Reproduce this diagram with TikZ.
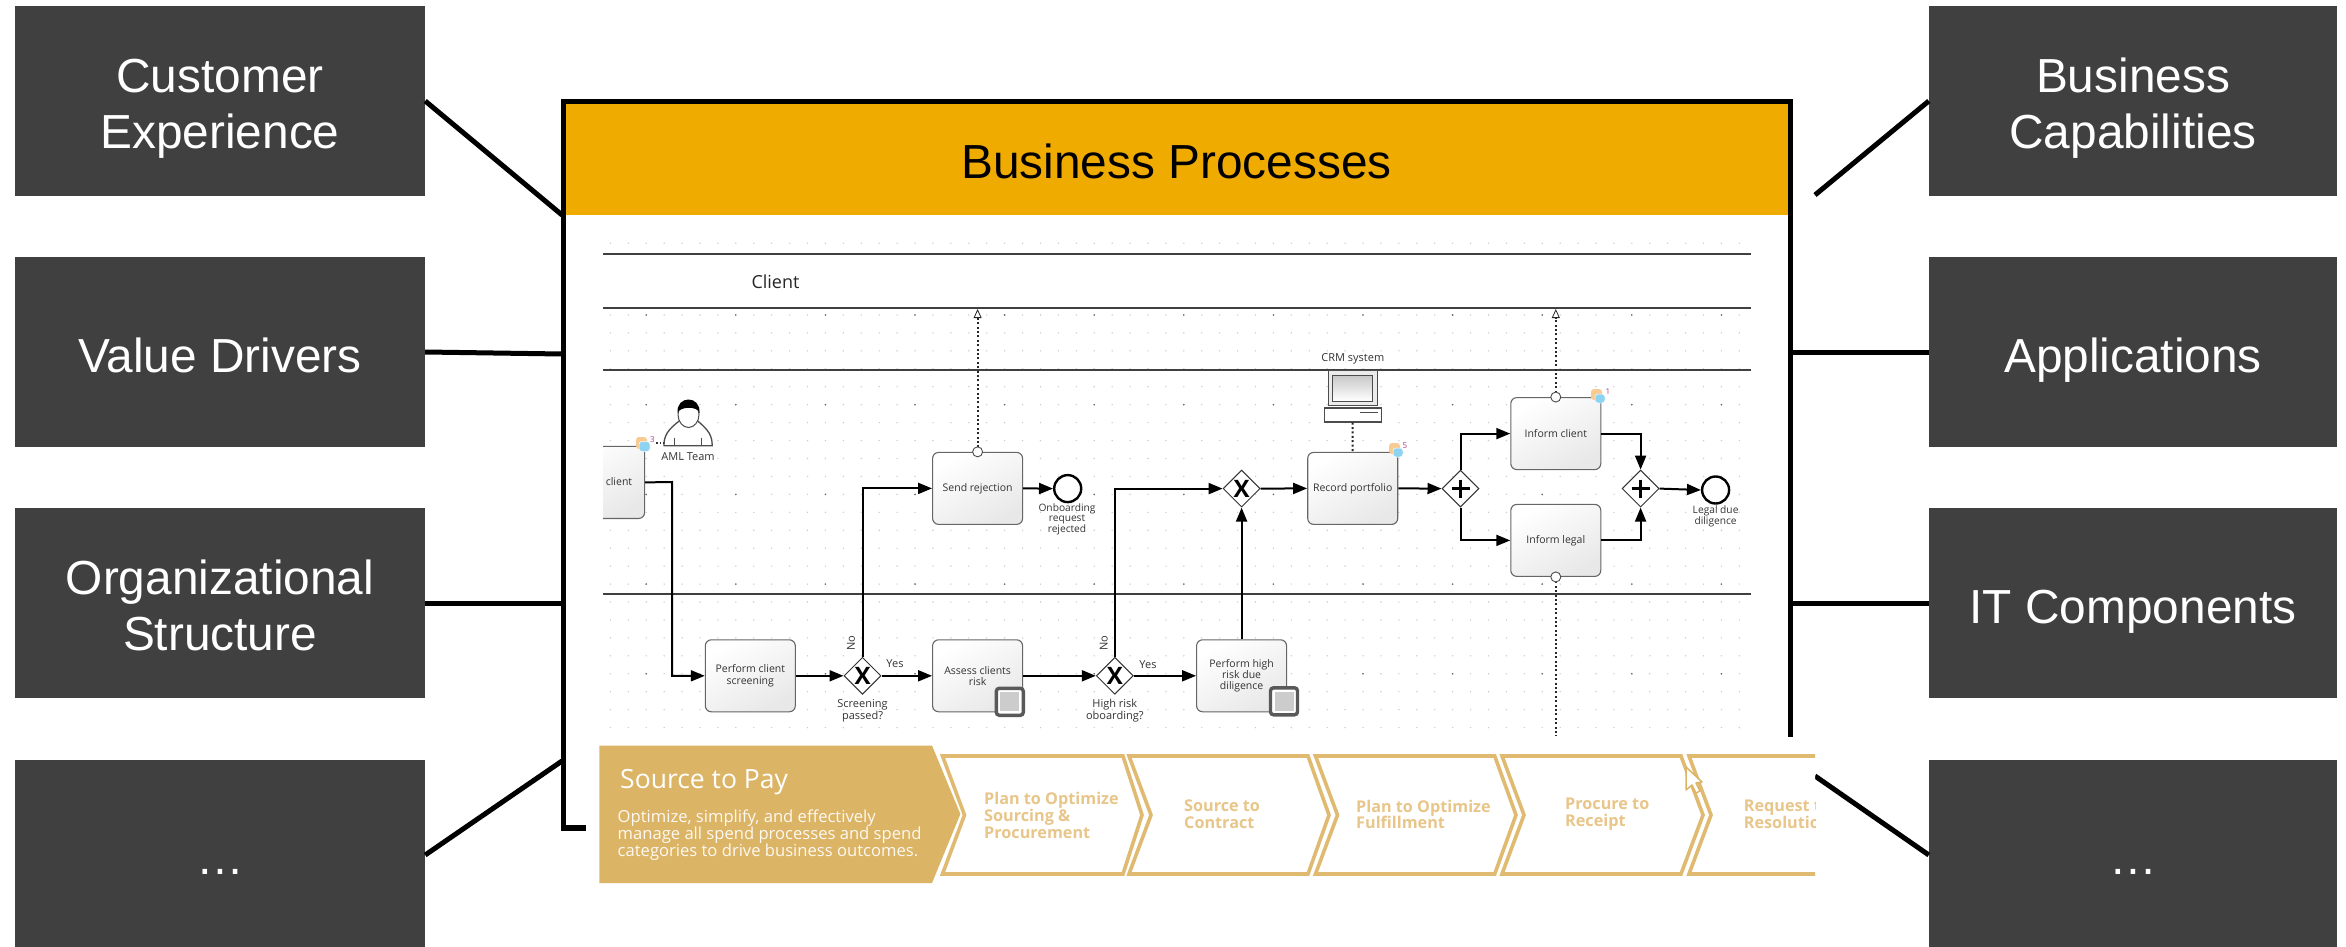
\documentclass[tikz,border=0pt]{standalone}
\usepackage{fontspec}
\setmainfont{Liberation Sans}
\newfontfamily\opensans{Open Sans}
\usetikzlibrary{arrows.meta,shapes.geometric}
\definecolor{boxgrey}{HTML}{404040}
\definecolor{bandorange}{HTML}{F0AB00}
\definecolor{goldfill}{HTML}{DCB465}
\definecolor{goldline}{HTML}{E0BA70}
\definecolor{goldtext}{HTML}{E8C68A}
\definecolor{bpmntext}{HTML}{333333}
\definecolor{badgeorange}{HTML}{F9CB94}
\definecolor{badgeblue}{HTML}{8ED4F2}
\newcommand{\lsone}{\rule[-11pt]{0pt}{63pt}}
\newcommand{\lsa}{\rule[-11pt]{0pt}{61pt}}
\newcommand{\lsb}{\rule[-11pt]{0pt}{11pt}}
\newcommand{\lsd}{\rule[-5pt]{0pt}{48pt}}
\tikzset{
  outerbox/.style={fill=boxgrey,text=white,minimum width=410,minimum height=190,inner sep=0,align=center,
    font=\fontsize{47.8}{55.5}\selectfont},
  spoke/.style={line width=5,black},
  frameline/.style={line width=5.3,black,line cap=butt},
  lane/.style={line width=1.3,black!75},
  task/.style={draw=black!60,line width=1.1,rounded corners=6,top color=white,bottom color=black!9,shading angle=30,
    minimum width=90,minimum height=72,inner sep=0,align=center,text=bpmntext,
    font=\opensans\fontsize{10.5}{11.2}\selectfont},
  gate/.style={diamond,aspect=1,draw=black!80,line width=1,fill=white,minimum width=37,minimum height=37,inner sep=0,
    font=\opensans\bfseries\fontsize{24}{24}\selectfont},
  gatemark/.style={line width=2.4,black},
  endev/.style={circle,draw=black,line width=2.4,fill=white,minimum size=27,inner sep=0},
  portc/.style={circle,draw=black!70,line width=.9,fill=white,minimum size=10,inner sep=0},
  flow/.style={line width=2,black,-{Triangle[length=14pt,width=11pt]}},
  assoc/.style={line width=2,black!85,dash pattern=on 2pt off 2.4pt},
  assocarrow/.style={assoc,-{Triangle[open,fill=white,length=9pt,width=8pt,line width=.8pt]}},
  lab/.style={inner sep=0,align=center,text=bpmntext,font=\opensans\fontsize{11}{10.6}\selectfont},
  marker/.style={draw=black!65,line width=3.4,rounded corners=3,fill=white,minimum size=27,inner sep=0},
  markerin/.style={fill=black!20,minimum size=19,inner sep=0},
  chevtext/.style={anchor=west,inner sep=0,align=left,text=goldtext,font=\opensans\bfseries\fontsize{16.2}{16.8}\selectfont},
  chev/.style={draw=goldline,line width=3.6,fill=white,line join=miter},
  bubbleA/.style={fill=badgeorange,rounded corners=3},
  bubbleB/.style={fill=badgeblue,draw=white,line width=.5,rounded corners=3},
  numlab/.style={inner sep=0,text=magenta!70!black,font=\opensans\fontsize{8}{8}\selectfont}
}
\begin{document}
\begin{tikzpicture}[x=1pt,y=-1pt]
\useasboundingbox (0,0) rectangle (2346,947);
% dot grid
\foreach \i in {0,...,63}{
  \foreach \j in {0,4,5,...,27}{
    \pgfmathsetmacro{\dx}{610.4+17.92*\i}
    \pgfmathsetmacro{\dy}{243.2+17.94*\j}
    \fill[black!20] (\dx,\dy) circle[radius=.8];
  }
}
\foreach \i in {0,...,12}{
  \foreach \j in {0,...,4}{
    \pgfmathsetmacro{\dx}{646.2+89.6*\i}
    \pgfmathsetmacro{\dy}{315+89.7*\j}
    \fill[black!60] (\dx,\dy) circle[radius=.9];
  }
}
% header band and frame
\node[fill=bandorange,minimum width=1223,minimum height=111,inner sep=0,font=\fontsize{47.8}{55}\selectfont] (band) at (1176.5,159.5) {\lsd Business Processes};
\coordinate (fLtop) at (563.3,101.7);
\coordinate (fRtop) at (1790.7,101.7);
\coordinate (fLbot) at (563.3,828);
\coordinate (fstub) at (586,828);
\coordinate (fRbot) at (1790.7,739);
\draw[frameline,line join=miter] (fstub) -- (fLbot) -- (fLtop) -- (fRtop) -- (fRbot);
% outer boxes
\node[outerbox] (cx) at (220,101) {\lsa Customer\\\lsb Experience};
\node[outerbox] (vd) at (220,352) {\lsone Value Drivers};
\node[outerbox] (os) at (220,603) {\lsa Organizational\\\lsb Structure};
\node[outerbox] (l4) at (220,855) {\lsd …};
\node[outerbox,minimum width=408] (bc) at (2133,101) {\lsa Business\\\lsb Capabilities};
\node[outerbox,minimum width=408] (ap) at (2133,352) {\lsone Applications};
\node[outerbox,minimum width=408] (it) at (2133,603) {\lsone IT Components};
\node[outerbox,minimum width=408] (r4) at (2133,855) {\lsd …};
% spokes
\coordinate (sp1) at (562,215);
\coordinate (sp2) at (562,354);
\coordinate (sp3) at (562,603);
\coordinate (sp4) at (562,761);
\coordinate (sp5) at (1815,195);
\coordinate (sp6) at (1791,352);
\coordinate (sp7) at (1791,603);
\coordinate (sp8) at (1815,776);
\draw[spoke] (cx.east) -- (sp1);
\draw[spoke] (vd.east) -- (sp2);
\draw[spoke] (os.east) -- (sp3);
\draw[spoke] (l4.east) -- (sp4);
\draw[spoke] (bc.west) -- (sp5);
\draw[spoke] (ap.west) -- (sp6);
\draw[spoke] (it.west) -- (sp7);
\draw[spoke] (r4.west) -- (sp8);
% lanes
\foreach \y in {254,308,370,594}{
  \draw[lane] (603,\y) -- (1751,\y);
}
\node[inner sep=0,text=black!85,font=\opensans\fontsize{18}{18}\selectfont] (clientlane) at (775.5,281.4) {Client};
% tasks
\begin{scope}
\clip (603,430) rectangle (700,540);
\node[task,minimum height=72.2] (client) at (599.6,482.4) {};
\end{scope}
\node[lab,font=\opensans\fontsize{10.5}{11}\selectfont] (clienttxt) at (619,482) {client};
\node[task] (screen) at (750.3,675.8) {Perform client\\screening};
\node[task] (assess) at (977.6,675.8) {Assess clients\\risk};
\node[task] (send) at (977.6,488.4) {Send rejection};
\node[task] (hrd) at (1241.6,675.8) {Perform high\\risk due\\diligence};
\node[task] (rec) at (1352.7,488.4) {Record portfolio};
\node[task] (iclient) at (1555.8,433.6) {Inform client};
\node[task] (ilegal) at (1555.8,540.4) {Inform legal};
\node[marker] (m1) at (1009.8,701.8) {};
\node[markerin] (mi1) at (m1.center) {};
\node[marker] (m2) at (1284,701.3) {};
\node[markerin] (mi2) at (m2.center) {};
% gateways
\node[gate] (g1) at (862.5,675.8) {X};
\node[gate] (g2) at (1114.8,675.8) {X};
\node[gate] (g3) at (1241.6,488.6) {X};
\node[gate] (g4) at (1460.5,488.6) {};
\node[gate] (g5) at (1640.6,488.6) {};
\draw[gatemark] (g4.center) ++(-9,0) -- ++(18,0) (g4.center) ++(0,-9) -- ++(0,18);
\draw[gatemark] (g5.center) ++(-9,0) -- ++(18,0) (g5.center) ++(0,-9) -- ++(0,18);
% events
\node[endev] (e1) at (1067.7,488.6) {};
\node[endev] (e2) at (1715.6,490) {};
% labels
\node[lab] (aml) at (688,457) {AML Team};
\node[lab,font=\opensans\fontsize{10.2}{10}\selectfont] (onb) at (1067,519.3) {Onboarding\\request\\rejected};
\node[lab,font=\opensans\fontsize{10.2}{10}\selectfont] (ldd) at (1715.6,516) {Legal due\\diligence};
\node[lab] (sp) at (862.5,711) {Screening\\passed?};
\node[lab] (hr) at (1114.8,711) {High risk\\oboarding?};
\node[lab] (y1) at (895,664) {Yes};
\node[lab] (y2) at (1148,665) {Yes};
\node[lab,rotate=90] (n1) at (851,643) {No};
\node[lab,rotate=90] (n2) at (1103.7,643) {No};
\node[lab] (crmt) at (1352.8,359) {CRM system};
% sequence flows
\coordinate (bend) at (672,482);
\draw[flow] (client.east) -- (bend) |- (screen.west);
\draw[flow] (screen.east) -- (g1.west);
\draw[flow] (g1.east) -- (assess.west);
\draw[flow] (assess.east) -- (g2.west);
\draw[flow] (g2.east) -- (hrd.west);
\draw[flow] (g1.north) |- (send.west);
\draw[flow] (send.east) -- (e1.west);
\draw[flow] (g2.north) |- (g3.west);
\draw[flow] (hrd.north) -- (g3.south);
\draw[flow] (g3.east) -- (rec.west);
\draw[flow] (rec.east) -- (g4.west);
\draw[flow] (g4.north) |- (iclient.west);
\draw[flow] (g4.south) |- (ilegal.west);
\draw[flow] (iclient.east) -| (g5.north);
\draw[flow] (ilegal.east) -| (g5.south);
\draw[flow] (g5.east) -- (e2.west);
% associations
\coordinate (up1) at (977.6,309);
\coordinate (up2) at (1555.8,309);
\coordinate (dn1) at (1555.8,736);
\draw[assocarrow] (send.north) -- (up1);
\draw[assocarrow] (iclient.north) -- (up2);
\draw[assoc] (ilegal.south) -- (dn1);
\node[portc] (p1) at (send.north) {};
\node[portc] (p2) at (iclient.north) {};
\node[portc] (p3) at (ilegal.south) {};
% CRM computer
\node[draw=black!70,line width=1.2,fill=black!8,minimum width=49,minimum height=35,inner sep=0] (mon) at (1352.6,388) {};
\node[draw=black!70,line width=1,top color=black!22,bottom color=white,minimum width=40,minimum height=26,inner sep=0] (scr) at (mon.center) {};
\node[draw=black!70,line width=1.2,fill=white,minimum width=57,minimum height=14,inner sep=0] (base) at (1352.6,415) {};
\draw[black!70,line width=1] (1360,412) -- (1378,412);
\draw[assoc] (base.south) -- (rec.north);
% person
\draw[black!70,line width=1.3,fill=white] (664,445.7) .. controls (664,436) and (667,430) .. (680.6,420) -- (696.4,420) .. controls (709,430) and (712.2,436) .. (712.2,445.7) -- cycle;
\draw[black!70,line width=1] (674.7,437.5) -- (674.7,445.7) (701.6,437.5) -- (701.6,445.7);
\draw[black!70,line width=1,fill=white] (688.5,414.5) ellipse[x radius=10.5,y radius=13];
\fill[black] (677.5,413) .. controls (676,395) and (701,395) .. (699.5,413) .. controls (698,406) and (680,406) .. (677.5,413) -- cycle;
% comment badges
\fill[bubbleA] (636,437) rectangle (647,449);
\filldraw[bubbleB] (639,441.5) rectangle (650,451.5);
\node[numlab] (c3) at (652.5,440) {3};
\draw[black!80,line width=1.2,dash pattern=on 1.5pt off 2pt] (656,443) -- (664,443);
\fill[bubbleA] (1389,443) rectangle (1400,454);
\filldraw[bubbleB] (1393,448) rectangle (1403,457);
\node[numlab] (c5) at (1405,446) {5};
\fill[bubbleA] (1591,389) rectangle (1602,400);
\filldraw[bubbleB] (1595,394) rectangle (1605,403);
\node[numlab] (c1) at (1608,392) {1};
% value chain
\fill[white] (597,737) rectangle (1815,900);
\fill[goldfill] (599.3,745.5) -- (932,745.5) -- (960.4,814) -- (932,883) -- (599.3,883) -- cycle;
\begin{scope}
\clip (590,740) rectangle (1815,890);
\foreach \L/\S/\T in {942.5/1123/1142,1129/1308/1329,1315.5/1494.7/1516,1502/1681/1703,1689/1868/1890}{
  \draw[chev] (\L,756) -- (\S,756) -- (\T,815) -- (\S,874) -- (\L,874) -- ({\L+22},815) -- cycle;
}
\node[chevtext] (t5) at (1743.7,814.5) {Request to\\Resolution};
\end{scope}
\node[inner sep=0,anchor=west,text=white,font=\opensans\fontsize{26.5}{26}\selectfont] (stp) at (620,782) {Source to Pay};
\node[inner sep=0,anchor=west,align=left,text=white!92!goldfill,font=\opensans\fontsize{16.6}{16.8}\selectfont] (stpb) at (617.5,835) {Optimize, simplify, and effectively\\manage all spend processes and spend\\categories to drive business outcomes.};
\node[chevtext] (t1) at (984,815.5) {Plan to Optimize\\Sourcing \&\\Procurement};
\node[chevtext] (t2) at (1184,814.5) {Source to\\Contract};
\node[chevtext] (t3) at (1356,814.5) {Plan to Optimize\\Fulfillment};
\node[chevtext] (t4) at (1565,814.5) {Procure to\\Receipt};
% cursor
\draw[goldfill,line width=1.5,fill=white,line join=round] (1686,767) -- (1686,790) -- (1692,785) -- (1696,793) -- (1700,791) -- (1696,783) -- (1702,782) -- cycle;
\end{tikzpicture}
\end{document}
